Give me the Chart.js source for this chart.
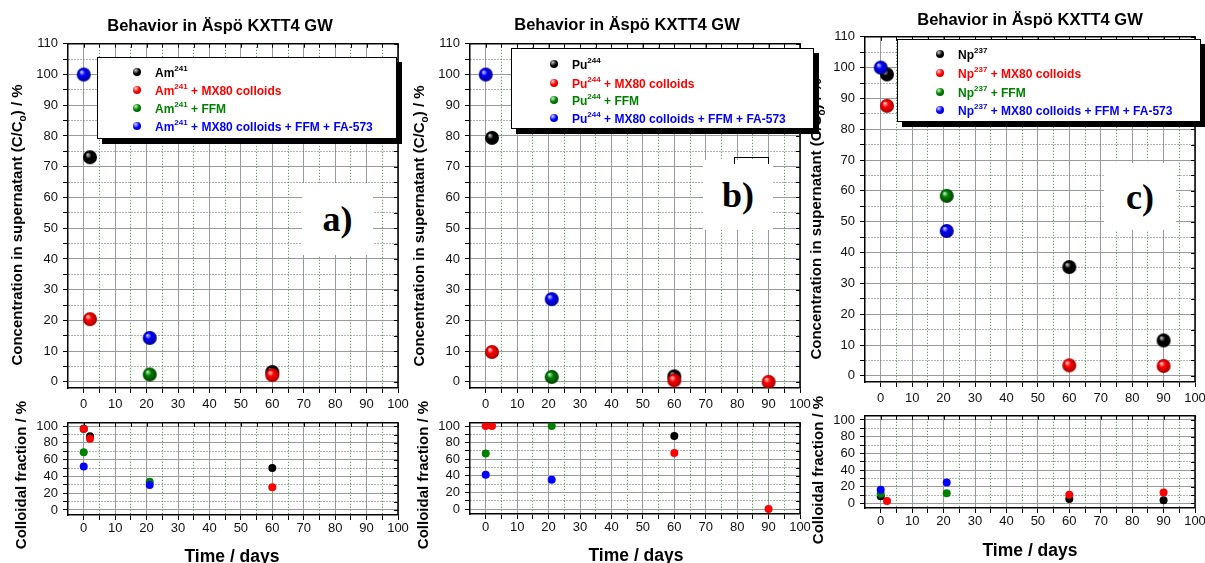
<!DOCTYPE html>
<html>
<head>
<meta charset="utf-8">
<script src="https://cdn.jsdelivr.net/npm/chart.js@4.4.1/dist/chart.umd.min.js"></script>
<style>
body { margin: 0; background: #fff; width: 1205px; height: 563px; overflow: hidden; position: relative;
       font-family: Arial, "Liberation Sans", sans-serif; color: #000; }
canvas { position: absolute; }
.title { position: absolute; font-weight: bold; font-size: 16.5px; white-space: nowrap; transform: translate(-50%, -50%); }
.ytitle { position: absolute; font-weight: bold; font-size: 15px; white-space: nowrap; transform: translate(-50%, -50%) rotate(-90deg); }
.xtitle { position: absolute; font-weight: bold; font-size: 17.5px; white-space: nowrap; transform: translate(-50%, -50%); }
.legend { position: absolute; background: #fff; border: 1px solid #000; box-shadow: 5px 5px 0 #000; z-index: 5; }
.item { position: absolute; font-weight: bold; font-size: 12px; line-height: 16px; white-space: nowrap; }
.item sup { font-size: 8px; vertical-align: baseline; position: relative; top: -6px; }
.dot { position: absolute; width: 8px; height: 8px; border-radius: 50%; }
.tag { position: absolute; background: #fff; z-index: 3; font-family: "Times New Roman", "Liberation Serif", serif;
       font-weight: bold; font-size: 36px; display: flex; align-items: center; justify-content: center; }
.bracket { position: absolute; border: 1px solid #000; border-bottom: none; z-index: 4; }
</style>
</head>
<body>
<script>
// axis ticks
const dayTicks = [0, 10, 20, 30, 40, 50, 60, 70, 80, 90, 100];
const concTicks = [0, 10, 20, 30, 40, 50, 60, 70, 80, 90, 100, 110];
const fracTicks = [0, 20, 40, 60, 80, 100];

const chartTitle = 'Behavior in Äspö KXTT4 GW';
const concLabel = 'Concentration in supernatant (C/C<sub style="font-size:10px">o</sub>) / %';
const fracLabel = 'Colloidal fraction / %';
const timeLabel = 'Time / days';

const nuclides = [['Am', '241'], ['Pu', '244'], ['Np', '237']];
const seriesNames = ['', ' + MX80 colloids', ' + FFM', ' + MX80 colloids + FFM + FA-573'];
const panelTags = ['a)', 'b)', 'c)'];

// a) Am-241, points as [day, %]
const amConcAlone = [[2, 73.1], [60, 3.2]];
const amConcMx80 = [[2, 20.4], [60, 2.2]];
const amConcFfm = [[21, 2.4]];
const amConcAll = [[0, 100], [21, 14.3]];
const amFracAlone = [[0, 97], [2, 88], [60, 50.2]];
const amFracMx80 = [[0, 96.5], [2, 85], [60, 27]];
const amFracFfm = [[0, 69], [21, 33.6]];
const amFracAll = [[0, 51.8], [21, 29.8]];

// b) Pu-244
const puConcAlone = [[2, 79.4], [60, 1.8]];
const puConcMx80 = [[2, 9.7], [60, 0.5], [90, 0]];
const puConcFfm = [[21, 1.6]];
const puConcAll = [[0, 100], [21, 26.9]];
const puFracAlone = [[60, 88]];
const puFracMx80 = [[0, 100], [2, 100], [60, 67.6], [90, 0]];
const puFracFfm = [[0, 66.9], [21, 100]];
const puFracAll = [[0, 41.4], [21, 35.2]];

// c) Np-237
const npConcAlone = [[2, 97.8], [60, 35.3], [90, 11.5]];
const npConcMx80 = [[2, 87.6], [60, 3.4], [90, 3.2]];
const npConcFfm = [[21, 58.4]];
const npConcAll = [[0, 100], [21, 47]];
const npFracAlone = [[0, 8.5], [60, 5.4], [90, 3.9]];
const npFracMx80 = [[2, 3], [60, 10.5], [90, 13]];
const npFracFfm = [[0, 11.6], [21, 12.3]];
const npFracAll = [[0, 16.3], [21, 25]];

const seriesColors = ['#000000', '#ff0000', '#008000', '#0000ff'];
const sphereLight = ['#c8c8c8', '#ffd0d0', '#c0f0c0', '#d0d0ff'];
const sphereDark = ['#000000', '#a00000', '#004000', '#000090'];

// layout of the three panels (page pixels)
const panels = [
  { conc: [amConcAlone, amConcMx80, amConcFfm, amConcAll], frac: [amFracAlone, amFracMx80, amFracFfm, amFracAll],
    top: { l: 68, t: 41, r: 398, b: 388, ymin: -2, ymax: 110, gap: 4 },
    bot: { l: 68, t: 420, r: 398, b: 515, ymin: -6, ymax: 104, gap: 1 },
    title: [220, 25], concT: [18, 225], fracT: [20, 475], timeT: [232, 556],
    legend: { l: 97, t: 57, w: 298, h: 80, mx: 136, tx: 154, rows: [71, 89, 107, 125] },
    tag: { l: 302, t: 183, w: 71, h: 72 } },
  { conc: [puConcAlone, puConcMx80, puConcFfm, puConcAll], frac: [puFracAlone, puFracMx80, puFracFfm, puFracAll],
    top: { l: 470, t: 41, r: 800, b: 388, ymin: -2, ymax: 110, gap: 4 },
    bot: { l: 470, t: 420, r: 800, b: 514, ymin: -6, ymax: 104, gap: 1 },
    title: [627, 24], concT: [420, 226], fracT: [422, 475], timeT: [636, 555],
    legend: { l: 511, t: 48, w: 301, h: 79, mx: 553, tx: 571, rows: [63, 82, 99, 117] },
    tag: { l: 703, t: 160, w: 70, h: 70 } },
  { conc: [npConcAlone, npConcMx80, npConcFfm, npConcAll], frac: [npFracAlone, npFracMx80, npFracFfm, npFracAll],
    top: { l: 865, t: 34, r: 1195, b: 382, ymin: -2, ymax: 110, gap: 4 },
    bot: { l: 865, t: 413, r: 1195, b: 508, ymin: -5.5, ymax: 105, gap: 1 },
    title: [1030, 19], concT: [817, 219], fracT: [817, 470], timeT: [1030, 550],
    legend: { l: 897, t: 39, w: 302, h: 81, mx: 939, tx: 957, rows: [53, 72, 91, 109] },
    tag: { l: 1104, t: 163, w: 72, h: 67 } }
];

function sphere(i, r) {
  const c = document.createElement('canvas');
  const s = 2 * r + 2;
  c.width = c.height = s;
  const g = c.getContext('2d');
  const grd = g.createRadialGradient(s / 2 - r * 0.35, s / 2 - r * 0.4, r * 0.05, s / 2, s / 2, r);
  grd.addColorStop(0, sphereLight[i]);
  grd.addColorStop(0.4, seriesColors[i]);
  grd.addColorStop(1, sphereDark[i]);
  g.fillStyle = grd;
  g.beginPath();
  g.arc(s / 2, s / 2, r, 0, Math.PI * 2);
  g.fill();
  return c;
}

function addDiv(cls, html, style) {
  const d = document.createElement('div');
  d.className = cls;
  d.innerHTML = html;
  Object.assign(d.style, style);
  document.body.appendChild(d);
  return d;
}

// top and right frame lines with inward ticks
const framePlugin = {
  id: 'frame',
  beforeDatasetsDraw(chart, args, opts) {
    const { ctx, chartArea: a, scales: { x, y } } = chart;
    ctx.save();
    ctx.strokeStyle = '#000';
    ctx.lineWidth = 1.5;
    ctx.beginPath();
    ctx.moveTo(a.left, a.top); ctx.lineTo(a.right, a.top); ctx.lineTo(a.right, a.bottom);
    ctx.stroke();
    ctx.lineWidth = 1;
    ctx.beginPath();
    opts.xVals.forEach(v => {
      const px = Math.round(x.getPixelForValue(v)) + 0.5;
      ctx.moveTo(px, a.top); ctx.lineTo(px, a.top + 4);
    });
    opts.yVals.forEach(v => {
      const py = Math.round(y.getPixelForValue(v)) + 0.5;
      ctx.moveTo(a.right, py); ctx.lineTo(a.right - 4, py);
    });
    ctx.stroke();
    ctx.restore();
  }
};

function makeChart(area, yMajor, series, big) {
  const yW = 50, padTop = 10, padRight = 16, xH = 28;
  const cv = document.createElement('canvas');
  cv.width = yW + (area.r - area.l) + padRight;
  cv.height = padTop + (area.b - area.t) + xH;
  cv.style.left = (area.l - yW) + 'px';
  cv.style.top = (area.t - padTop) + 'px';
  document.body.appendChild(cv);

  const xMinor = dayTicks.slice(0, -1).map((v, i) => (v + dayTicks[i + 1]) / 2);
  const yMinor = yMajor.slice(0, -1).map((v, i) => (v + yMajor[i + 1]) / 2);
  const xAll = dayTicks.concat(xMinor).sort((a, b) => a - b);
  const yAll = yMajor.concat(yMinor).sort((a, b) => a - b);
  const tickFont = { family: 'Arial, "Liberation Sans", sans-serif', size: 13 };

  const datasets = series.map((pts, i) => ({
    label: 'series' + i,
    data: pts.map(p => ({ x: p[0], y: p[1] })),
    order: 4 - i,
    pointStyle: big ? sphere(i, 7) : 'circle',
    pointRadius: big ? 7 : 4,
    pointBackgroundColor: seriesColors[i],
    pointBorderWidth: 0
  }));

  return new Chart(cv.getContext('2d'), {
    type: 'scatter',
    data: { datasets },
    options: {
      responsive: false,
      animation: false,
      events: [],
      layout: { padding: { top: padTop, right: padRight, left: 0, bottom: 0 } },
      plugins: { legend: { display: false }, tooltip: { enabled: false },
                 frame: { xVals: xAll, yVals: yAll } },
      scales: {
        x: {
          type: 'linear', min: -5, max: 100,
          afterBuildTicks: s => { s.ticks = xAll.map(v => ({ value: v })); },
          afterFit: s => { s.height = xH; },
          ticks: { autoSkip: false, maxRotation: 0, padding: area.gap, color: '#111', font: tickFont,
                   callback: v => dayTicks.includes(v) ? String(v) : '' },
          grid: { color: c => (c.tick && !dayTicks.includes(c.tick.value)) ? '#1f9a1f' : '#9a9a9a',
                  lineWidth: 1, tickColor: '#000', tickLength: 5 },
          border: { color: '#000', width: 1.5, dash: c => (c.tick && !dayTicks.includes(c.tick.value)) ? [1, 2] : [] }
        },
        y: {
          type: 'linear', min: area.ymin, max: area.ymax,
          afterBuildTicks: s => { s.ticks = yAll.map(v => ({ value: v })); },
          afterFit: s => { s.width = yW; },
          ticks: { autoSkip: false, padding: 5, color: '#111', font: tickFont,
                   callback: v => yMajor.includes(v) ? String(v) : '' },
          grid: { color: c => (c.tick && !yMajor.includes(c.tick.value)) ? '#666' : '#9a9a9a',
                  lineWidth: 1, tickColor: '#000', tickLength: 5 },
          border: { color: '#000', width: 1.5, dash: c => (c.tick && !yMajor.includes(c.tick.value)) ? [1, 2] : [] }
        }
      }
    },
    plugins: [framePlugin]
  });
}

panels.forEach((p, k) => {
  makeChart(p.top, concTicks, p.conc, true);
  makeChart(p.bot, fracTicks, p.frac, false);

  addDiv('title', chartTitle, { left: p.title[0] + 'px', top: p.title[1] + 'px' });
  addDiv('ytitle', concLabel, { left: p.concT[0] + 'px', top: p.concT[1] + 'px' });
  addDiv('ytitle', fracLabel, { left: p.fracT[0] + 'px', top: p.fracT[1] + 'px' });
  addDiv('xtitle', timeLabel, { left: p.timeT[0] + 'px', top: p.timeT[1] + 'px' });

  const L = p.legend;
  const box = addDiv('legend', '', { left: L.l + 'px', top: L.t + 'px', width: L.w + 'px', height: L.h + 'px',
                                      zIndex: 10 + k });
  L.rows.forEach((ry, i) => {
    const dot = document.createElement('div');
    dot.className = 'dot';
    dot.style.left = (L.mx - L.l - 4) + 'px';
    dot.style.top = (ry - L.t - 4) + 'px';
    dot.style.background = 'radial-gradient(circle at 35% 30%, ' + sphereLight[i] + ' 0%, ' +
                           seriesColors[i] + ' 45%, ' + sphereDark[i] + ' 100%)';
    box.appendChild(dot);
    const it = document.createElement('div');
    it.className = 'item';
    it.style.left = (L.tx - L.l) + 'px';
    it.style.top = (ry - L.t - 7) + 'px';
    it.style.color = seriesColors[i];
    it.innerHTML = nuclides[k][0] + '<sup>' + nuclides[k][1] + '</sup>' + seriesNames[i];
    box.appendChild(it);
  });

  addDiv('tag', panelTags[k], { left: p.tag.l + 'px', top: p.tag.t + 'px', width: p.tag.w + 'px', height: p.tag.h + 'px' });
});

// small bracket above the b) box
addDiv('bracket', '', { left: '734px', top: '157px', width: '33px', height: '6px' });
</script>
</body>
</html>
